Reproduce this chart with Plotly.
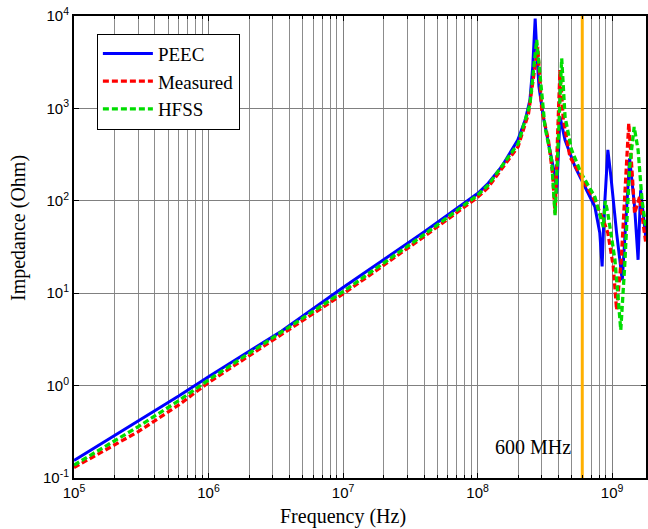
import numpy as np
import plotly.graph_objects as go

# ---------------- data ----------------
peec_f = [1e5, 2e5, 3e5, 6e5, 1e6, 3.5e6, 1e7, 4e7, 1e8, 1.2e8, 1.51e8, 1.99e8, 2.26e8, 2.45e8,
          2.57e8, 2.68e8, 2.75e8, 2.86e8, 3.08e8, 3.46e8, 3.77e8, 3.87e8, 4.1e8, 4.47e8, 5.3e8,
          6.28e8, 7.45e8, 8.1e8, 8.43e8, 8.7e8, 8.9e8, 9.3e8, 9.8e8, 1.08e9, 1.19e9, 1.28e9,
          1.35e9, 1.47e9, 1.56e9, 1.63e9, 1.78e9]
peec_z = [0.155, 0.29, 0.41, 0.77, 1.25, 3.9, 11.5, 46, 120, 155, 234, 454, 748, 1230,
          2800, 9400, 4270, 1710, 810, 326, 182, 120, 810, 454, 234,
          142, 86, 45, 19.5, 68, 131, 355, 183, 45, 13.8, 86,
          288, 86, 23, 130, 40]

meas_f = [1e5, 2e5, 3e5, 6e5, 1e6, 2e6, 1e7, 4e7, 1e8, 1.2e8, 2e8, 2.39e8, 2.67e8, 2.8e8,
          3e8, 3.36e8, 3.61e8, 3.77e8, 3.94e8, 4.1e8, 4.34e8, 4.86e8, 5.9e8, 7.45e8, 8.6e8,
          9.3e8, 1.02e9, 1.08e9, 1.17e9, 1.28e9, 1.33e9, 1.41e9, 1.47e9, 1.6e9, 1.78e9]
meas_z = [0.13, 0.227, 0.317, 0.617, 1.08, 2.1, 9.8, 41, 109, 140, 385, 880, 2800, 4630,
          960, 454, 198, 73, 537, 2600, 748, 300, 182, 100, 62,
          45, 19.5, 6.6, 23, 234, 690, 198, 73, 110, 35]

hfss_f = [1e5, 2e5, 3e5, 6e5, 1e6, 1e7, 4e7, 1e8, 1.2e8, 2e8, 2.45e8, 2.75e8, 2.91e8, 3.17e8,
          3.55e8, 3.77e8, 4e8, 4.22e8, 4.47e8, 5e8, 5.9e8, 7.45e8, 8.6e8, 8.9e8, 9.3e8,
          1.05e9, 1.16e9, 1.24e9, 1.35e9, 1.46e9, 1.56e9, 1.67e9, 1.78e9]
hfss_z = [0.138, 0.25, 0.359, 0.687, 1.15, 10.4, 43, 115, 148, 415, 1100, 5500, 2400, 630,
          276, 70, 537, 3470, 810, 355, 198, 110, 52, 100, 73,
          23, 4, 19.5, 234, 630, 355, 100, 52]

marker_freq = 6e8
marker_label = "600 MHz"

x_title = "Frequency (Hz)"
y_title = "Impedance (Ohm)"
x_tick_vals = [1e5, 1e6, 1e7, 1e8, 1e9]
x_tick_text = ["10<sup>5</sup>", "10<sup>6</sup>", "10<sup>7</sup>", "10<sup>8</sup>", "10<sup>9</sup>"]
y_tick_vals = [1e-1, 1e0, 1e1, 1e2, 1e3, 1e4]
y_tick_text = ["10<sup>-1</sup>", "10<sup>0</sup>", "10<sup>1</sup>", "10<sup>2</sup>",
               "10<sup>3</sup>", "10<sup>4</sup>"]
x_minor_vals = [k * 10 ** n for n in range(5, 10) for k in range(2, 10)]

# ---------------- figure ----------------
SERIF = "Liberation Serif, Times New Roman, serif"
SANS = "Liberation Sans, Arial, sans-serif"
W, H = 648, 529
ML, MR, MT, MB = 74, 0, 16, 51
PW, PH = W - ML - MR, H - MT - MB

fig = go.Figure()
fig.add_trace(go.Scatter(x=peec_f, y=peec_z, mode="lines", name="PEEC",
                         line=dict(color="#0000ff", width=3)))
fig.add_trace(go.Scatter(x=meas_f, y=meas_z, mode="lines", name="Measured",
                         line=dict(color="#ff0000", width=3.3, dash="6px,3px")))
fig.add_trace(go.Scatter(x=hfss_f, y=hfss_z, mode="lines", name="HFSS",
                         line=dict(color="#00dd00", width=3.3, dash="6px,3px")))
fig.add_trace(go.Scatter(x=[marker_freq, marker_freq], y=[1e-1, 1e4], mode="lines",
                         showlegend=False, line=dict(color="#ffb000", width=3),
                         hoverinfo="skip"))

fig.add_annotation(x=np.log10(marker_freq), xref="x", y=0.067, yref="paper",
                   text=marker_label, showarrow=False, xanchor="right", yanchor="middle",
                   xshift=-9, font=dict(family=SERIF, size=20, color="black"))
# axis titles (placed as in the reference, which is off-centre)
fig.add_annotation(x=(343.5 - ML) / PW, xref="paper", y=0, yref="paper", yshift=-38.5,
                   text=x_title, showarrow=False, xanchor="center", yanchor="middle",
                   font=dict(family=SERIF, size=20, color="black"))
fig.add_annotation(x=0, xref="paper", xshift=-(ML - 18), y=(H - MB - 228) / PH, yref="paper",
                   text=y_title, showarrow=False, textangle=-90,
                   xanchor="center", yanchor="middle",
                   font=dict(family=SERIF, size=20, color="black"))

fig.update_xaxes(type="log", range=[5, 9.252], tickvals=x_tick_vals, ticktext=x_tick_text,
                 showgrid=True, gridcolor="#808080", gridwidth=1.2,
                 showline=True, linecolor="black", linewidth=2, mirror="allticks",
                 ticks="inside", ticklen=5, tickcolor="black",
                 minor=dict(tickvals=x_minor_vals, showgrid=True, gridcolor="#8c8c8c",
                            gridwidth=1, ticks="inside", ticklen=3, tickcolor="black"),
                 tickfont=dict(family=SANS, size=15, color="black"),
                 zeroline=False)
fig.update_yaxes(type="log", range=[-1, 4], tickvals=y_tick_vals, ticktext=y_tick_text,
                 showgrid=True, gridcolor="#808080", gridwidth=1.2,
                 showline=True, linecolor="black", linewidth=2, mirror="allticks",
                 ticks="inside", ticklen=5, tickcolor="black",
                 tickfont=dict(family=SANS, size=15, color="black"),
                 zeroline=False)

fig.update_layout(
    width=W, height=H,
    margin=dict(l=ML, r=MR, t=MT, b=MB),
    paper_bgcolor="white", plot_bgcolor="white",
    showlegend=True,
    legend=dict(x=0.04, y=0.962, xanchor="left", yanchor="top", itemwidth=50,
                bgcolor="white", bordercolor="black", borderwidth=1,
                font=dict(family=SERIF, size=19, color="black")),
)

fig.write_html("out.html", config={"displayModeBar": False},
               post_script="document.body.style.margin='0px';document.body.style.overflow='hidden';")
